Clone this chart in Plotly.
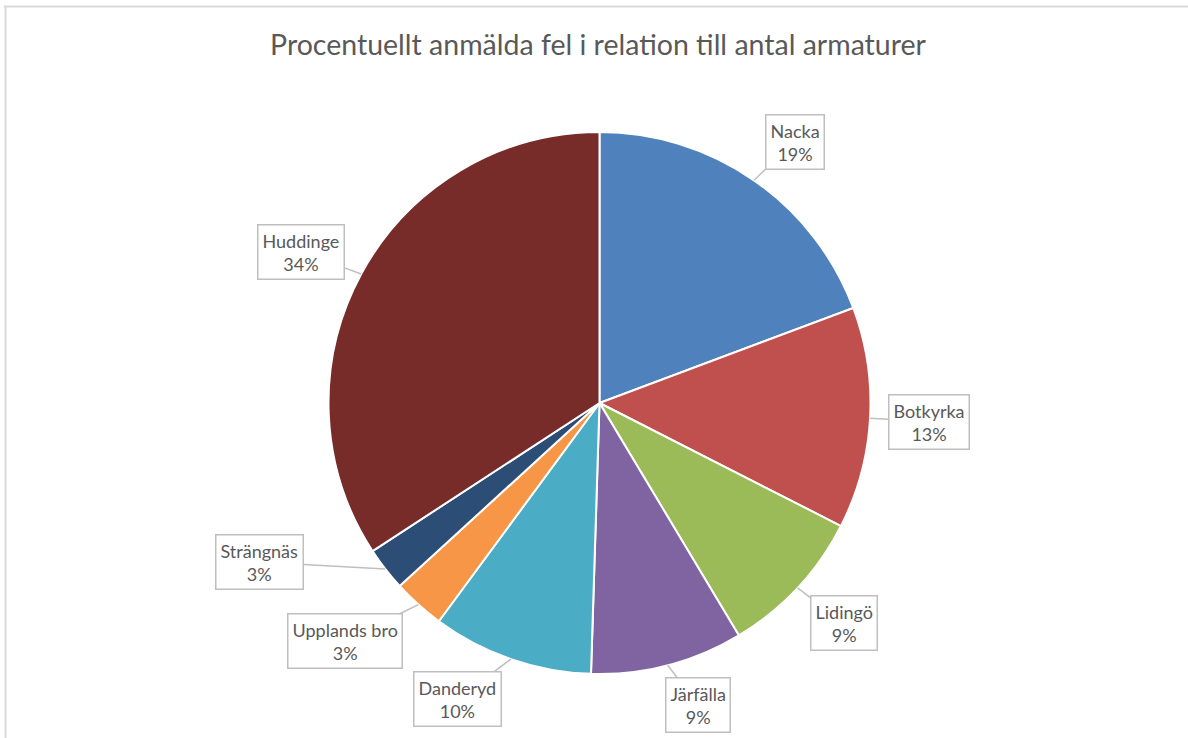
import math
import plotly.graph_objects as go

# ---- data ----
categories = ["Nacka", "Botkyrka", "Lidingö", "Järfälla", "Danderyd",
              "Upplands bro", "Strängnäs", "Huddinge"]
values = [19.3, 13.2, 8.9, 9.1, 9.6, 3.1, 2.6, 34.2]
slice_colors = ["#4F81BD", "#C0504D", "#9BBB59", "#8064A2", "#4BACC6",
                "#F79646", "#2C4D75", "#772C2A"]
title_text = "Procentuellt anmälda fel i relation till antal armaturer"

# ---- layout helpers (pixel geometry of the page) ----
W, H = 1188, 738
CX, CY, R = 599.5, 403.0, 271.0
# callout placement: (angle nudge in degrees, distance from centre in px)
callout_place = [(2.0, 326), (0.0, 330), (-1.0, 329), (-3.5, 318),
                 (6.5, 328), (5.0, 349), (12.7, 375), (-1.6, 335)]

FONT = "Lato, 'Open Sans', sans-serif"
TEXT_COLOR = "#595959"
GRAY = "#BFBFBF"

fig = go.Figure(go.Pie(
    labels=categories,
    values=values,
    sort=False,
    direction="clockwise",
    rotation=0,
    marker=dict(colors=slice_colors, line=dict(color="white", width=2)),
    textinfo="none",
    hoverinfo="skip",
    showlegend=False,
    domain=dict(x=[(CX - R) / W, (CX + R) / W],
                y=[1 - (CY + R) / H, 1 - (CY - R) / H]),
))

total = sum(values)
annotations = []
cum = 0.0
for cat, v, (dang, dist) in zip(categories, values, callout_place):
    mid = (cum + v / 2) / total * 360.0
    cum += v
    a = math.radians(mid)
    tx, ty = CX + R * math.sin(a), CY - R * math.cos(a)
    b = math.radians(mid + dang)
    bx, by = CX + dist * math.sin(b), CY - dist * math.cos(b)
    pct = round(v / total * 100)
    annotations.append(dict(
        x=tx / W, y=1 - ty / H, xref="paper", yref="paper",
        ax=bx - tx, ay=by - ty,
        text=f"{cat}<br>{pct}%",
        showarrow=True, arrowhead=0, arrowwidth=1.5, arrowcolor=GRAY,
        standoff=0,
        bordercolor=GRAY, borderwidth=1.5, borderpad=4, bgcolor="white",
        font=dict(family=FONT, size=18, color=TEXT_COLOR),
        align="center",
    ))

fig.update_layout(
    width=W, height=H,
    margin=dict(l=0, r=0, t=0, b=0),
    paper_bgcolor="white",
    title=dict(text=title_text, x=598 / W, xanchor="center",
               y=1 - 45 / H, yanchor="middle",
               font=dict(family=FONT, size=28.5, color=TEXT_COLOR)),
    annotations=annotations,
    shapes=[
        dict(type="line", xref="paper", yref="paper",
             x0=4 / W, x1=1.0, y0=1 - 6.5 / H, y1=1 - 6.5 / H,
             line=dict(color="#D9D9D9", width=2)),
        dict(type="line", xref="paper", yref="paper",
             x0=5.5 / W, x1=5.5 / W, y0=0, y1=1 - 6 / H,
             line=dict(color="#D9D9D9", width=2)),
    ],
)

fig.write_html("out.html",
               config={"displayModeBar": False},
               post_script="document.body.style.margin='0';document.body.style.overflow='hidden';")
